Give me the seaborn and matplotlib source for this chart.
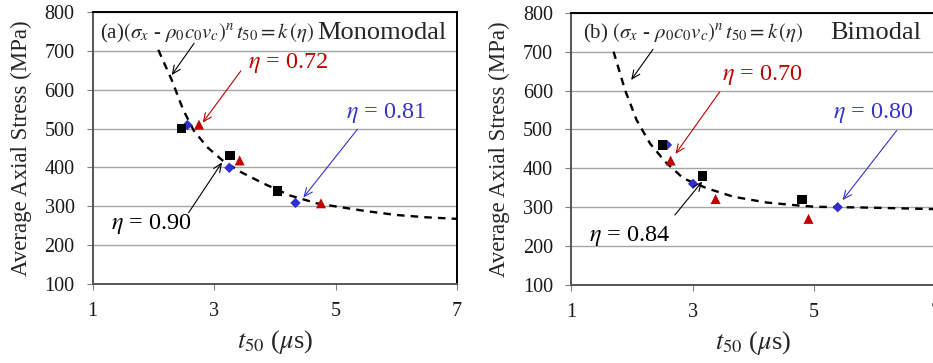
import matplotlib
matplotlib.use("Agg")
import matplotlib.pyplot as plt
import seaborn as sns

# ---- panel (a): monomodal ----
mono_square_t = [2.46, 3.26, 4.04]
mono_square_s = [500, 430, 340]
mono_diamond_t = [2.56, 3.25, 4.34]
mono_diamond_s = [509, 399, 309]
mono_triangle_t = [2.75, 3.42, 4.76]
mono_triangle_s = [510, 418, 308]
mono_fit_t = [2.08, 2.30, 2.49, 2.66, 2.88, 3.13, 3.43, 3.81, 4.25, 4.69, 5.0, 5.5, 6.0, 6.5, 7.0]
mono_fit_s = [702, 625, 548, 496, 453, 419, 389, 359, 328, 308, 300, 288, 278, 272, 268]

# ---- panel (b): bimodal ----
bi_square_t = [2.51, 3.16, 4.80]
bi_square_s = [460, 380, 320]
bi_diamond_t = [2.58, 3.01, 5.39]
bi_diamond_s = [460, 360, 300]
bi_triangle_t = [2.64, 3.38, 4.91]
bi_triangle_s = [420, 321, 270]
bi_fit_t = [1.70, 1.89, 2.08, 2.30, 2.55, 2.85, 3.23, 3.67, 4.22, 4.77, 5.04, 5.87, 7.0]
bi_fit_s = [700, 601, 524, 464, 417, 374, 349, 327, 312, 304, 301, 299, 295]

x_ticks = [1, 3, 5, 7]
y_ticks = [100, 200, 300, 400, 500, 600, 700, 800]

RED = "#c00000"
BLUE = "#3434c8"

sns.set_theme(style="white")
plt.rcParams["font.family"] = ["Liberation Serif", "DejaVu Serif"]
plt.rcParams["mathtext.fontset"] = "stix"

fig = plt.figure(figsize=(9.33, 3.63), dpi=100)
ax_a = fig.add_axes([0.0994, 0.2168, 0.3904, 0.751])
ax_b = fig.add_axes([0.612, 0.2149, 0.3907, 0.7501])


def style_axis(ax):
    ax.set_xlim(1, 7)
    ax.set_ylim(100, 800)
    ax.set_xticks(x_ticks)
    ax.set_yticks(y_ticks)
    ax.yaxis.grid(True, color="#a6a6a6", lw=1.0)
    ax.xaxis.grid(False)
    ax.set_axisbelow(True)
    ax.tick_params(direction="out", length=4.5, width=0.8, color="#808080",
                   labelsize=14.5, pad=8.5, left=True, bottom=True,
                   labelcolor="#1a1a1a")
    for side in ["top", "right"]:
        ax.spines[side].set_color("#000000")
        ax.spines[side].set_linewidth(1.4)
    for side in ["left", "bottom"]:
        ax.spines[side].set_color("#555555")
        ax.spines[side].set_linewidth(1.4)
    ax.set_xlabel(r"$t_{50}$ ($\mu$s)", fontsize=19)
    ax.set_ylabel("Average Axial Stress (MPa)", fontsize=16.5)
    ax.xaxis.set_label_coords(0.5, -0.16)
    ax.yaxis.set_label_coords(-0.167, 0.5)


def draw_panel(ax, fit_t, fit_s, sq_t, sq_s, di_t, di_s, tr_t, tr_s):
    sns.lineplot(x=fit_t, y=fit_s, ax=ax, color="black", lw=1.7,
                 linestyle=(0, (3.2, 2.6)), sort=False, estimator=None, zorder=2)
    sns.scatterplot(x=di_t, y=di_s, ax=ax, marker="D", s=28, color="#3030d0",
                    edgecolor="none", zorder=3)
    sns.scatterplot(x=sq_t, y=sq_s, ax=ax, marker="s", s=46, color="black",
                    edgecolor="none", zorder=4)
    sns.scatterplot(x=tr_t, y=tr_s, ax=ax, marker="^", s=52, color=RED,
                    edgecolor="none", zorder=4)


def arrow(ax, tail, head, color):
    ax.annotate("", xy=head, xytext=tail,
                arrowprops=dict(arrowstyle="->,head_length=0.5,head_width=0.22",
                                lw=0.8, color=color, shrinkA=0, shrinkB=0))


draw_panel(ax_a, mono_fit_t, mono_fit_s, mono_square_t, mono_square_s,
           mono_diamond_t, mono_diamond_s, mono_triangle_t, mono_triangle_s)
draw_panel(ax_b, bi_fit_t, bi_fit_s, bi_square_t, bi_square_s,
           bi_diamond_t, bi_diamond_s, bi_triangle_t, bi_triangle_s)
style_axis(ax_a)
style_axis(ax_b)

formula = r"$(\sigma_x$ - $\rho_0 c_0 v_c)^n\, t_{50} = k\,(\eta)$"

# panel (a) annotations
ax_a.text(1.12, 745, "(a)" + formula, fontsize=15, va="center", ha="left")
ax_a.text(4.69, 745, "Monomodal", fontsize=19, va="center", ha="left")
ax_a.text(3.55, 668, r"$\eta$ = 0.72", fontsize=17.5, color=RED, va="center", ha="left")
ax_a.text(5.18, 539, r"$\eta$ = 0.81", fontsize=17.5, color=BLUE, va="center", ha="left")
ax_a.text(1.30, 254, r"$\eta$ = 0.90", fontsize=17.5, color="black", va="center", ha="left")
arrow(ax_a, (2.67, 719), (2.30, 637), "black")
arrow(ax_a, (3.44, 648), (2.81, 515), RED)
arrow(ax_a, (5.36, 498), (4.47, 323), BLUE)
arrow(ax_a, (2.58, 284), (3.13, 413), "black")

# panel (b) annotations
ax_b.text(1.19, 747, "(b) " + formula, fontsize=15, va="center", ha="left")
ax_b.text(5.26, 747, "Bimodal", fontsize=19, va="center", ha="left")
ax_b.text(3.48, 640, r"$\eta$ = 0.70", fontsize=17.5, color=RED, va="center", ha="left")
ax_b.text(5.32, 541, r"$\eta$ = 0.80", fontsize=17.5, color=BLUE, va="center", ha="left")
ax_b.text(1.30, 227, r"$\eta$ = 0.84", fontsize=17.5, color="black", va="center", ha="left")
arrow(ax_b, (2.35, 706), (1.99, 627), "black")
arrow(ax_b, (3.45, 597), (2.72, 437), RED)
arrow(ax_b, (6.36, 497), (5.47, 318), BLUE)
arrow(ax_b, (2.71, 280), (3.16, 366), "black")

fig.savefig("out.png", dpi=100)
